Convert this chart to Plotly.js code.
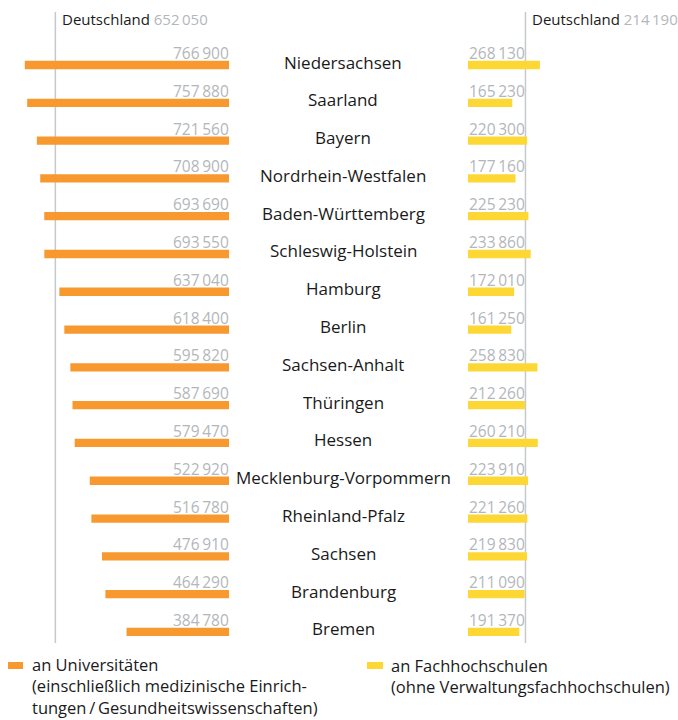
<!DOCTYPE html>
<html><head><meta charset="utf-8">
<script src="https://cdn.plot.ly/plotly-3.0.1.min.js"></script>
<style>body{margin:0;background:#fff}#c{width:678px;height:720px}</style>
</head><body><div id="c"></div>
<script>
const states = ["Niedersachsen","Saarland","Bayern","Nordrhein-Westfalen","Baden-Württemberg","Schleswig-Holstein","Hamburg","Berlin","Sachsen-Anhalt","Thüringen","Hessen","Mecklenburg-Vorpommern","Rheinland-Pfalz","Sachsen","Brandenburg","Bremen"];
const uni = [766900,757880,721560,708900,693690,693550,637040,618400,595820,587690,579470,522920,516780,476910,464290,384780];
const fh = [268130,165230,220300,177160,225230,233860,172010,161250,258830,212260,260210,223910,221260,219830,211090,191370];
const deUni = 652050;
const deFh = 214190;
const legendUni = ["an Universitäten","(einschließlich medizinische Einrich-","tungen\u2009/\u2009Gesundheitswissenschaften)"];
const legendFh = ["an Fachhochschulen","(ohne Verwaltungsfachhochschulen)"];

const ORANGE = "#f7992f", YELLOW = "#fdd835", GREY = "#b3b7bb", LINE = "#c6c9cc";
const FONT = "Open Sans";
const W = 678, H = 720;
const fmt = v => String(v).replace(/\B(?=(\d{3})+(?!\d))/g, "\u2009");

const traces = [
  {type:"bar", orientation:"h", x:uni, y:states, xaxis:"x", yaxis:"y", marker:{color:ORANGE}, width:0.22, hoverinfo:"none"},
  {type:"bar", orientation:"h", x:fh, y:states, xaxis:"x2", yaxis:"y", marker:{color:YELLOW}, width:0.22, hoverinfo:"none"}
];

const ann = [];
states.forEach((s,i) => {
  ann.push({xref:"paper", x:343/W, yref:"y", y:s, text:s, showarrow:false, xanchor:"center", yanchor:"middle", yshift:3, font:{family:FONT, size:17, color:"#1a1a1a"}});
  ann.push({xref:"x", x:0, yref:"y", y:s, text:fmt(uni[i]), showarrow:false, xanchor:"right", yanchor:"middle", yshift:12, xshift:2, font:{family:FONT, size:15.5, color:GREY}});
  ann.push({xref:"x2", x:0, yref:"y", y:s, text:fmt(fh[i]), showarrow:false, xanchor:"left", yanchor:"middle", yshift:12, xshift:-1, font:{family:FONT, size:15.5, color:GREY}});
});
ann.push({xref:"x", x:deUni, yref:"paper", y:1-19/H, text:"Deutschland <span style='color:"+GREY+"'>"+fmt(deUni)+"</span>", showarrow:false, xanchor:"left", yanchor:"middle", xshift:5, font:{family:FONT, size:15, color:"#1a1a1a"}});
ann.push({xref:"x2", x:deFh, yref:"paper", y:1-19/H, text:"Deutschland <span style='color:"+GREY+"'>"+fmt(deFh)+"</span>", showarrow:false, xanchor:"left", yanchor:"middle", xshift:5, font:{family:FONT, size:15, color:"#1a1a1a"}});
ann.push({xref:"paper", x:31/W, yref:"paper", y:0, text:legendUni.join("<br>"), align:"left", showarrow:false, xanchor:"left", yanchor:"bottom", borderpad:0, font:{family:FONT, size:16.5, color:"#1a1a1a"}});
ann.push({xref:"paper", x:390/W, yref:"paper", y:1-(720-21.5)/H, text:legendFh.join("<br>"), align:"left", showarrow:false, xanchor:"left", yanchor:"bottom", borderpad:0, font:{family:FONT, size:16.5, color:"#1a1a1a"}});

const shapes = [
  {type:"line", xref:"x", x0:deUni, x1:deUni, yref:"paper", y0:1-12/H, y1:1-643/H, line:{color:LINE, width:1.5}, layer:"below"},
  {type:"line", xref:"x2", x0:deFh, x1:deFh, yref:"paper", y0:1-12/H, y1:1-643/H, line:{color:LINE, width:1.5}, layer:"below"},
  {type:"rect", xref:"paper", yref:"paper", x0:8/W, x1:23/W, y0:1-669/H, y1:1-662/H, fillcolor:ORANGE, line:{width:0}},
  {type:"rect", xref:"paper", yref:"paper", x0:367/W, x1:383/W, y0:1-669/H, y1:1-662/H, fillcolor:YELLOW, line:{width:0}}
];

const layout = {
  width:W, height:H, margin:{l:0,r:0,t:0,b:0}, paper_bgcolor:"#fff", plot_bgcolor:"rgba(0,0,0,0)",
  showlegend:false, barmode:"overlay",
  xaxis:{domain:[0,229/W], range:[860000,0], visible:false, fixedrange:true},
  xaxis2:{domain:[468/W,1], range:[0,783000], visible:false, fixedrange:true},
  yaxis:{type:"category", categoryorder:"array", categoryarray:states, range:[17.33,-1.72], visible:false, fixedrange:true},
  annotations:ann, shapes:shapes
};
Plotly.newPlot("c", traces, layout, {staticPlot:true});
</script></body></html>
